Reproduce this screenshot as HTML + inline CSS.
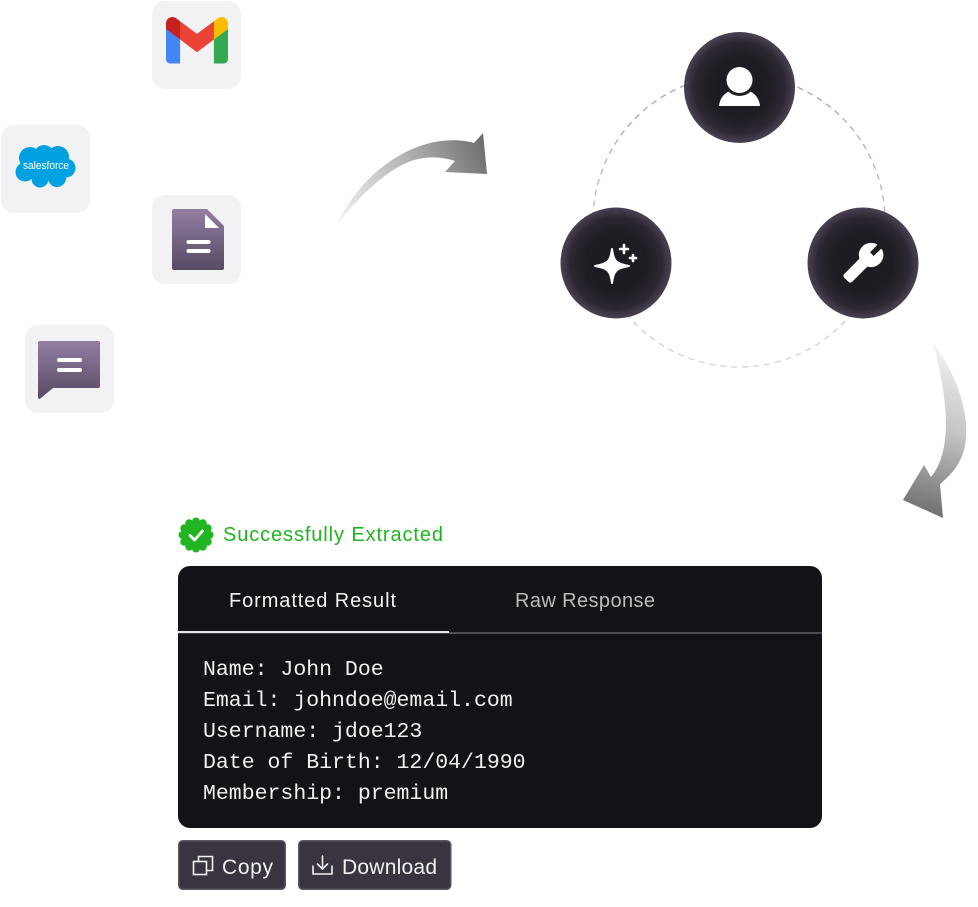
<!DOCTYPE html>
<html>
<head>
<meta charset="utf-8">
<style>
html,body{margin:0;padding:0;background:#fff;}
body{width:978px;height:907px;overflow:hidden;}
svg{display:block;}
</style>
</head>
<body>
<svg width="978" height="907" viewBox="0 0 978 907" xmlns="http://www.w3.org/2000/svg">
<defs>
  <radialGradient id="node" cx="50%" cy="50%" r="50%">
    <stop offset="0" stop-color="#1d1a21"/>
    <stop offset="0.55" stop-color="#1f1c23"/>
    <stop offset="0.82" stop-color="#2c2732"/>
    <stop offset="1" stop-color="#4a4253"/>
  </radialGradient>
  <linearGradient id="purp" x1="0" y1="0" x2="0" y2="1">
    <stop offset="0" stop-color="#927fa3"/>
    <stop offset="1" stop-color="#574a63"/>
  </linearGradient>
  <linearGradient id="arr1" gradientUnits="userSpaceOnUse" x1="337" y1="220" x2="487" y2="150">
    <stop offset="0" stop-color="#f2f2f2"/>
    <stop offset="0.5" stop-color="#b8b8b8"/>
    <stop offset="1" stop-color="#6f6f6f"/>
  </linearGradient>
  <linearGradient id="arr2" gradientUnits="userSpaceOnUse" x1="950" y1="345" x2="910" y2="510">
    <stop offset="0" stop-color="#f4f4f4"/>
    <stop offset="0.5" stop-color="#c4c4c4"/>
    <stop offset="1" stop-color="#707070"/>
  </linearGradient>
  <linearGradient id="dash" x1="0" y1="0" x2="0" y2="1">
    <stop offset="0" stop-color="#a99cc0"/>
    <stop offset="1" stop-color="#d6d2de"/>
  </linearGradient>
</defs>

<!-- App tiles -->
<rect x="152" y="1" width="89" height="88" rx="13" fill="#f2f2f4"/>
<rect x="1" y="125" width="89" height="88" rx="13" fill="#f2f2f4"/>
<rect x="152" y="195" width="89" height="89" rx="13" fill="#f2f2f4"/>
<rect x="25" y="325" width="89" height="88" rx="13" fill="#f2f2f4"/>

<!-- Gmail -->
<g transform="translate(166,17) scale(0.2422)">
  <path fill="#4285f4" d="M58.18 192.05V93.14L27.51 65.08 0 49.5v125.09c0 9.660 7.83 17.46 17.46 17.46z"/>
  <path fill="#34a853" d="M197.82 192.05h40.73c9.66 0 17.46-7.83 17.46-17.46V49.5l-31.16 17.84-27.03 25.8z"/>
  <path fill="#ea4335" d="M58.18 93.14l-4.17-38.65 4.17-36.99L128 69.87l69.82-52.37 4.67 34.99-4.67 40.65L128 145.5z"/>
  <path fill="#fbbc04" d="M197.82 17.5v75.64L256 49.5V26.23c0-21.59-24.64-33.9-41.89-20.95z"/>
  <path fill="#c5221f" d="M0 49.5l26.76 20.07L58.18 93.14V17.5L41.89 5.28C24.61-7.67 0 4.65 0 26.23z"/>
</g>

<!-- Salesforce cloud -->
<g fill="#00a1e0">
  <circle cx="30" cy="158" r="11"/>
  <circle cx="44" cy="155" r="10"/>
  <circle cx="58" cy="157" r="11"/>
  <circle cx="66" cy="168" r="9.5"/>
  <circle cx="57" cy="178" r="9"/>
  <circle cx="40" cy="179" r="8.5"/>
  <circle cx="25" cy="172" r="9.5"/>
  <rect x="24" y="157" width="42" height="22"/>
</g>
<text x="23" y="169" font-family="Liberation Sans, sans-serif" font-size="11" fill="#fff" textLength="46" lengthAdjust="spacingAndGlyphs">salesforce</text>

<!-- Doc -->
<path d="M172,211 q0,-2 2,-2 H207 L224,226 V268 q0,2 -2,2 H174 q-2,0 -2,-2 Z" fill="url(#purp)"/>
<path d="M205,214 V228 H219 Z" fill="#fff"/>
<line x1="188.5" y1="242" x2="208.5" y2="242" stroke="#fff" stroke-width="4" stroke-linecap="round"/>
<line x1="188.5" y1="251" x2="208.5" y2="251" stroke="#fff" stroke-width="4" stroke-linecap="round"/>

<!-- Chat -->
<path d="M40,341 H98 q2,0 2,2 V386 q0,2 -2,2 H53 L41,398 q-3,2 -3,-1 V343 q0,-2 2,-2 Z" fill="url(#purp)"/>
<line x1="59" y1="360" x2="80" y2="360" stroke="#fff" stroke-width="4" stroke-linecap="round"/>
<line x1="59" y1="370" x2="80" y2="370" stroke="#fff" stroke-width="4" stroke-linecap="round"/>

<!-- Arrow 1 -->
<path d="M337,225 C350,195 380,160 420,146 C440,139 460,139 474,143 L483,133 L487,174 L445,172 L455,161 C440,156 420,155 400,166 C380,177 355,200 337,225 Z" fill="url(#arr1)"/>

<!-- Arrow 2 -->
<path d="M933,343 C958,375 972,420 964,450 C960,465 950,476 940,484 L943,518 L903,500 L924,465 L931,477 C945,460 955,425 933,343 Z" fill="url(#arr2)"/>

<!-- Dashed ring -->
<circle cx="739" cy="221" r="146" fill="none" stroke="url(#dash)" stroke-width="1.3" stroke-dasharray="6 5"/>

<!-- Nodes -->
<circle cx="739.5" cy="87.5" r="55.5" fill="url(#node)"/>
<circle cx="616" cy="263" r="55.5" fill="url(#node)"/>
<circle cx="863" cy="263" r="55.5" fill="url(#node)"/>

<!-- Person -->
<path d="M719,106 C720,95 729,89 739.5,89 C750,89 759,95 760,106 Z" fill="#fff"/>
<circle cx="739.5" cy="80" r="16" fill="#1f1c23"/>
<circle cx="739.5" cy="80" r="13" fill="#fff"/>

<!-- Sparkle -->
<path d="M612,249 C613.5,261 616,264 629,266 C616,268 613.5,271 612,283 C610.5,271 608,268 595,266 C608,264 610.5,261 612,249 Z" fill="#fff" stroke="#fff" stroke-width="2" stroke-linejoin="round"/>
<g stroke="#fff" stroke-width="2.6" stroke-linecap="round">
  <line x1="620" y1="249" x2="628" y2="249"/>
  <line x1="624" y1="245" x2="624" y2="253"/>
  <line x1="630" y1="258" x2="636" y2="258"/>
  <line x1="633" y1="255" x2="633" y2="261"/>
</g>

<!-- Wrench -->
<g transform="translate(884,242) scale(-1.72,1.72)">
  <path fill="#fff" d="M22.7 19l-9.1-9.1c.9-2.3.4-5-1.5-6.9-2-2-5-2.4-7.4-1.3L9 6 6 9 1.6 4.7C.4 7.1.9 10.1 2.9 12.1c1.9 1.9 4.6 2.4 6.9 1.5l9.1 9.1c.4.4 1 .4 1.4 0l2.3-2.3c.5-.4.5-1.1.1-1.4z" stroke="#fff" stroke-width="1.2" stroke-linejoin="round"/>
</g>

<!-- Success badge -->
<g fill="#22b522">
  <circle cx="196" cy="535" r="13"/>
  <circle cx="196" cy="521.5" r="4"/>
  <circle cx="202.8" cy="523.3" r="4"/>
  <circle cx="207.7" cy="528.2" r="4"/>
  <circle cx="209.5" cy="535" r="4"/>
  <circle cx="207.7" cy="541.8" r="4"/>
  <circle cx="202.8" cy="546.7" r="4"/>
  <circle cx="196" cy="548.5" r="4"/>
  <circle cx="189.2" cy="546.7" r="4"/>
  <circle cx="184.3" cy="541.8" r="4"/>
  <circle cx="182.5" cy="535" r="4"/>
  <circle cx="184.3" cy="528.2" r="4"/>
  <circle cx="189.2" cy="523.3" r="4"/>
</g>
<path d="M190,535.5 L194.5,540 L202.5,531" fill="none" stroke="#fff" stroke-width="2.8" stroke-linecap="round" stroke-linejoin="round"/>
<text x="223" y="541" font-family="Liberation Sans, sans-serif" font-size="20" fill="#1fb51f" textLength="220" lengthAdjust="spacing">Successfully Extracted</text>

<!-- Card -->
<rect x="178" y="566" width="644" height="262" rx="12" fill="#131217"/>
<text x="229" y="607" font-family="Liberation Sans, sans-serif" font-size="20" fill="#f4f4f4" textLength="167" lengthAdjust="spacing">Formatted Result</text>
<text x="515" y="607" font-family="Liberation Sans, sans-serif" font-size="20" fill="#bcbcbc" textLength="140" lengthAdjust="spacing">Raw Response</text>
<rect x="449" y="632" width="373" height="2" fill="#4e4c53"/>
<rect x="178" y="631" width="271" height="2.2" fill="#e6e6e6"/>

<g font-family="Liberation Mono, DejaVu Sans Mono, monospace" font-size="21.5" fill="#f0f0f0">
  <text x="203" y="675">Name: John Doe</text>
  <text x="203" y="706">Email: johndoe@email.com</text>
  <text x="203" y="737">Username: jdoe123</text>
  <text x="203" y="768">Date of Birth: 12/04/1990</text>
  <text x="203" y="799">Membership: premium</text>
</g>

<!-- Buttons -->
<rect x="178.75" y="840.75" width="106.5" height="48.5" rx="4" fill="#3a3441" stroke="#5a5561" stroke-width="1.5"/>
<rect x="298.75" y="840.75" width="152" height="48.5" rx="4" fill="#3a3441" stroke="#5a5561" stroke-width="1.5"/>
<!-- copy icon -->
<g fill="none" stroke="#f2f2f2" stroke-width="1.6">
  <rect x="193.5" y="861.5" width="13" height="13"/>
  <path d="M198.5,861.5 V856.5 H212.5 V870.5 H206.5"/>
</g>
<text x="222" y="874" font-family="Liberation Sans, sans-serif" font-size="21" fill="#f2f2f2" textLength="51" lengthAdjust="spacing">Copy</text>
<!-- download icon -->
<g fill="none" stroke="#f2f2f2" stroke-width="1.6" stroke-linecap="round" stroke-linejoin="round">
  <path d="M313,866 V874 H332 V866"/>
  <path d="M322.5,856 V869"/>
  <path d="M317.5,864 L322.5,869 L327.5,864"/>
</g>
<text x="342" y="874" font-family="Liberation Sans, sans-serif" font-size="21" fill="#f2f2f2" textLength="95" lengthAdjust="spacing">Download</text>
</svg>
</body>
</html>
